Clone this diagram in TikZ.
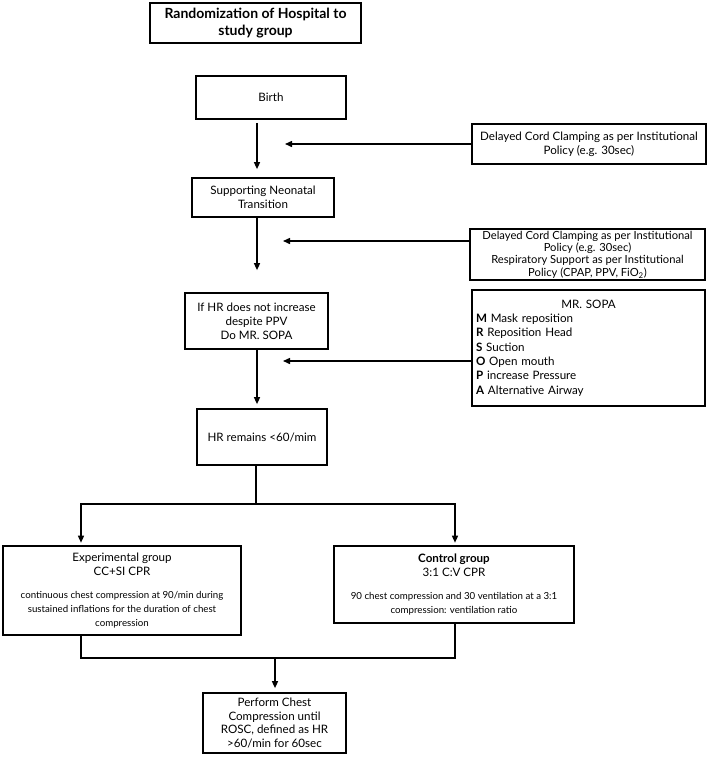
\documentclass[tikz,border=0pt]{standalone}
\usepackage{fontspec}
\setmainfont{Lato}
\usetikzlibrary{arrows.meta,calc}
\begin{document}
\begin{tikzpicture}[x=1pt,y=-1pt,
  box/.style={draw=black,line width=1.7pt,rectangle,align=center,inner sep=2pt,font=\fontsize{11.6}{13.8}\selectfont},
  thickbox/.style={box,line width=2.6pt},
  arr/.style={line width=1.4pt,-{Triangle[length=7pt,width=6pt]}},
  ln/.style={line width=1.4pt}]
\useasboundingbox (0,0) rectangle (708,764);

\node[thickbox,minimum width=211,minimum height=40,font=\bfseries\fontsize{14}{16.5}\selectfont] (top) at (255.5,23) {Randomization of Hospital to\\study group};
\node[box,minimum width=150,minimum height=43] (birth) at (271,97.5) {Birth};
\node[box,minimum width=234,minimum height=40] (del1) at (589,144) {Delayed Cord Clamping as per Institutional\\Policy (e.g. 30sec)};
\node[box,minimum width=142,minimum height=39] (supp) at (263,197.5) {Supporting Neonatal\\Transition};
\node[box,minimum width=235,minimum height=51,font=\fontsize{11.2}{12.4}\selectfont] (del2) at (587.5,254.5) {Delayed Cord Clamping as per Institutional\\Policy (e.g. 30sec)\\Respiratory Support as per Institutional\\Policy (CPAP, PPV, FiO\textsubscript{2})};
\node[box,minimum width=143,minimum height=56] (ifhr) at (256.5,321) {If HR does not increase\\despite PPV\\Do MR. SOPA};
\node[box,minimum width=233,minimum height=116,text width=225pt,align=left,font=\fontsize{11.6}{14.3}\selectfont] (sopa) at (588.5,348) {\makebox[\linewidth][c]{MR. SOPA}\\\textbf{M} Mask reposition\\\textbf{R} Reposition Head\\\textbf{S} Suction\\\textbf{O} Open mouth\\\textbf{P} increase Pressure\\\textbf{A} Alternative Airway};
\node[box,minimum width=130,minimum height=56] (hrrem) at (262,437) {HR remains <60/mim};
\node[thickbox,minimum width=238,minimum height=89] (exp) at (122,590.5) {Experimental group\\CC+SI CPR\\[9pt]{\fontsize{9.7}{12}\selectfont continuous chest compression at 90/min during}\\{\fontsize{9.7}{12}\selectfont sustained inflations for the duration of chest}\\{\fontsize{9.7}{12}\selectfont compression}};
\node[thickbox,minimum width=240,minimum height=77] (ctrl) at (454,584.5) {\textbf{Control group}\\3:1 C:V CPR\\[9pt]{\fontsize{9.7}{12}\selectfont 90 chest compression and 30 ventilation at a 3:1}\\{\fontsize{9.7}{12}\selectfont compression: ventilation ratio}};
\node[box,minimum width=143,minimum height=60,font=\fontsize{11.6}{13.5}\selectfont] (final) at (274.5,723) {Perform Chest\\Compression until\\ROSC, defined as HR\\>60/min for 60sec};

% helper coordinates
\coordinate (cx) at (257,0);
\coordinate (t1) at (285,144);
\coordinate (t2) at (283,241);
\coordinate (t3) at (283,361);
\coordinate (split) at (256,504);
\coordinate (lx) at (81,0);
\coordinate (rx) at (455,0);
\coordinate (join) at (275,658);

\draw[arr,shorten <=3pt,shorten >=8pt] (birth.south -| cx) -- (supp.north -| cx);
\draw[arr,shorten >=22pt] (supp.south -| cx) -- (ifhr.north -| cx);
\draw[arr,shorten >=4pt] (ifhr.south -| cx) -- (hrrem.north -| cx);
\draw[arr] (del1.west) -- (t1);
\draw[arr] (del2.west |- t2) -- (t2);
\draw[arr] (sopa.west |- t3) -- (t3);

\draw[ln] (hrrem.south -| split) -- (split);
\draw[arr,shorten >=2pt] (split) -| (exp.north -| lx);
\draw[arr,shorten >=2pt] (split) -| (ctrl.north -| rx);

\draw[ln] (exp.south -| lx) |- (join);
\draw[ln] (ctrl.south -| rx) |- (join);
\draw[arr,shorten >=4pt] (join) -- (final.north -| join);
\end{tikzpicture}
\end{document}
